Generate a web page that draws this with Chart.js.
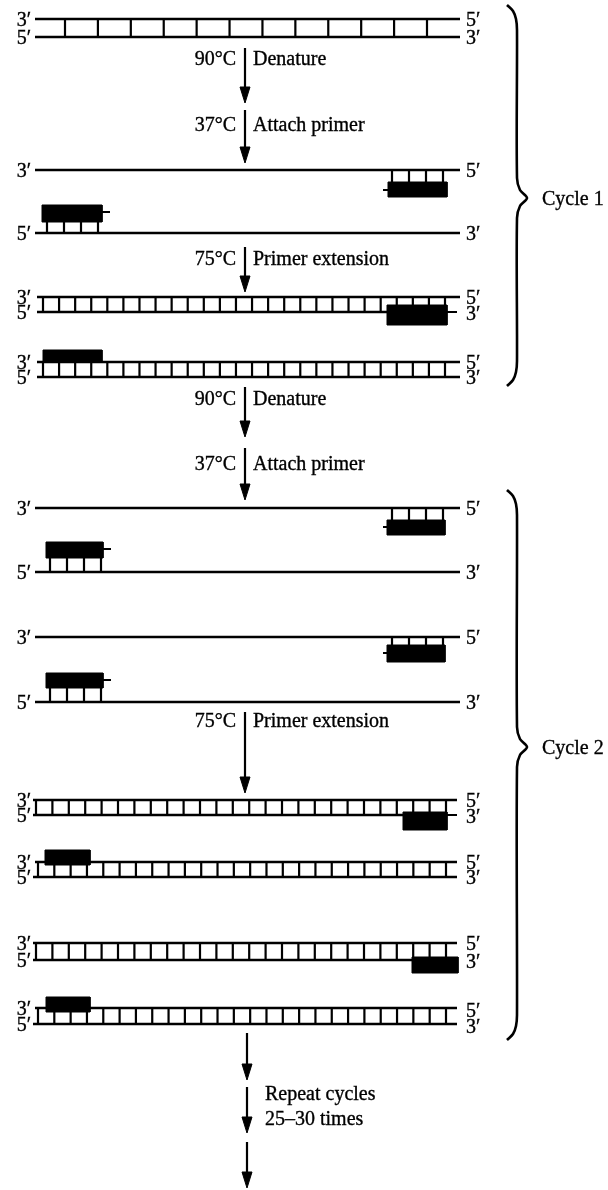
<!DOCTYPE html>
<html><head><meta charset="utf-8">
<style>html,body{margin:0;padding:0;background:#fff}#wrap{width:608px;height:1190px}</style>
<script src="https://cdn.jsdelivr.net/npm/chart.js@4.4.1/dist/chart.umd.min.js"></script>
</head><body><div id="wrap"><canvas id="c" width="608" height="1190"></canvas></div>
<script>
// ---- diagram data (coordinates in diagram units) ----
// strands: [xStart, xEnd, y]
const strandLines = [
  [35,460,19],[35,460,37],
  [35,460,170],[35,460,233],
  [37,460,297],[37,387,312],
  [37,460,362],[37,460,377],
  [35,460,508],[35,460,572],[35,460,637],[35,460,702],
  [33,457,800],[33,403,815],
  [35,457,862],[33,457,877],
  [33,457,943],[33,412,960],
  [35,457,1008],[33,457,1024]
];
// base-pair ladders: [xFirst, xLast, rungCount, yTop, yBottom]
const ladders = [
  [65,427,12,19,37],
  [392,443,4,170,182],
  [47,98,4,222,233],
  [43,445,26,297,312],
  [43,445,26,362,377],
  [392,443,4,508,520],
  [50,101,4,558,572],
  [392,443,4,637,645],
  [50,101,4,688,702],
  [36,446,26,800,815],
  [38,446,26,862,877],
  [36,446,26,943,960],
  [38,446,26,1008,1024]
];
// primers (black blocks): [xLeft, xRight, yTop, yBottom]
const primers = [
  [388,447,182,197],[42,102,205,222],
  [387,447,305,325],[43,102,350,362],
  [387,445,520,535],[46,103,542,558],
  [387,445,645,662],[46,103,673,688],
  [403,447,812,830],[45,90,850,865],
  [412,458,957,973],[46,90,997,1012]
];
// primer tails: [x1, x2, y]
const primerTails = [
  [383,388,190],[102,110,212],[447,457,312],
  [383,387,527],[103,111,549],[383,387,653],[103,111,680],
  [447,457,815]
];
// arrows: [x, yStart, yTip]
const arrows = [
  [245,48,103],[245,110,163],[245,247,292],
  [245,387,437],[245,448,500],[245,712,793],
  [247,1033,1080],[247,1087,1133],[247,1142,1188]
];
// step labels
const stepTemps = ["90°C","37°C","75°C","90°C","37°C","75°C"];
const stepNames = ["Denature","Attach primer","Primer extension","Denature","Attach primer","Primer extension"];
const stepY = [58,124,258,398,463,720];
// strand end labels: [text, y]
const leftLabels = [
  ["3′",19],["5′",37],["3′",170],["5′",233],["3′",297],["5′",312],["3′",362],["5′",377],
  ["3′",508],["5′",572],["3′",637],["5′",702],
  ["3′",800],["5′",815],["3′",862],["5′",877],["3′",943],["5′",960],["3′",1008],["5′",1024]
];
const rightLabels = [
  ["5′",19],["3′",37],["5′",170],["3′",233],["5′",297],["3′",313],["5′",362],["3′",377],
  ["5′",508],["3′",572],["5′",637],["3′",702],
  ["5′",800],["3′",816],["5′",862],["3′",877],["5′",943],["3′",961],["5′",1010],["3′",1026]
];
// braces: [yTop, yMid, yBottom]
const braces = [[5,198,386],[490,747,1040]];
const cycleNames = ["Cycle 1","Cycle 2"];
const repeatText = ["Repeat cycles","25–30 times"];
const repeatY = [1093,1118];

// ---- build datasets ----
const GAP = {x:0,y:null};
function segs(list){ const d=[]; list.forEach(s=>{ d.push(...s, GAP); }); return d; }
const strandData = segs(strandLines.map(([a,b,y])=>[{x:a,y},{x:b,y}]));
const tailData = segs(primerTails.map(([a,b,y])=>[{x:a,y},{x:b,y}]));
const rungSegs = [];
ladders.forEach(([x0,x1,n,yt,yb])=>{
  for(let i=0;i<n;i++){ const xx = n>1 ? x0+(x1-x0)*i/(n-1) : x0; rungSegs.push([{x:xx,y:yt},{x:xx,y:yb}]); }
});
const rungData = segs(rungSegs);
const blockData = segs(primers.map(([a,b,t,bt])=>[{x:a,y:t},{x:b,y:t},{x:b,y:bt},{x:a,y:bt},{x:a,y:t}]));
const shaftData = segs(arrows.map(([x,s,t])=>[{x,y:s},{x,y:t-10}]));
const headData = segs(arrows.map(([x,s,t])=>[{x:x-5,y:t-16},{x:x+5,y:t-16},{x,y:t},{x:x-5,y:t-16}]));
const braceSets = braces.map(([t,m,b])=>[
  {x:507,y:t},{x:513,y:t+6},{x:516,y:t+14},{x:517,y:t+25},{x:517,y:m-20},{x:520,y:m-8},{x:527,y:m},
  {x:520,y:m+8},{x:517,y:m+20},{x:517,y:b-25},{x:516,y:b-14},{x:513,y:b-6},{x:507,y:b}
]);

const base = {showLine:true,pointRadius:0,borderColor:'#000',backgroundColor:'#000',spanGaps:false,fill:false,tension:0};
const datasets = [
  Object.assign({},base,{label:'primers',data:blockData,fill:'shape',borderWidth:1,order:0}),
  Object.assign({},base,{label:'arrowheads',data:headData,fill:'shape',borderWidth:1,order:0}),
  Object.assign({},base,{label:'strands',data:strandData,borderWidth:2.5,order:2}),
  Object.assign({},base,{label:'tails',data:tailData,borderWidth:2.2,order:2}),
  Object.assign({},base,{label:'rungs',data:rungData,borderWidth:2.2,order:3}),
  Object.assign({},base,{label:'shafts',data:shaftData,borderWidth:2.2,order:2}),
  ...braceSets.map((d,i)=>Object.assign({},base,{label:'brace'+i,data:d,borderWidth:2.6,tension:0.3,order:2}))
];

const textPlugin = {
  id:'diagramText',
  afterDatasetsDraw(chart){
    const {ctx, scales:{x,y}} = chart;
    ctx.save();
    ctx.fillStyle='#000';
    ctx.strokeStyle='#000';
    ctx.lineWidth=0.35;
    ctx.font='20px "Liberation Serif", "Times New Roman", serif';
    ctx.textBaseline='alphabetic';
    const off = 7;
    const put=(t,px,py)=>{ctx.fillText(t,px,py);ctx.strokeText(t,px,py);};
    ctx.textAlign='right';
    leftLabels.forEach(([t,yy])=>put(t,x.getPixelForValue(31),y.getPixelForValue(yy)+off));
    stepTemps.forEach((t,i)=>put(t,x.getPixelForValue(236),y.getPixelForValue(stepY[i])+off));
    ctx.textAlign='left';
    rightLabels.forEach(([t,yy])=>put(t,x.getPixelForValue(466),y.getPixelForValue(yy)+off));
    stepNames.forEach((t,i)=>put(t,x.getPixelForValue(253),y.getPixelForValue(stepY[i])+off));
    cycleNames.forEach((t,i)=>put(t,x.getPixelForValue(542),y.getPixelForValue(braces[i][1])+off));
    repeatText.forEach((t,i)=>put(t,x.getPixelForValue(265),y.getPixelForValue(repeatY[i])+off));
    ctx.restore();
  }
};

new Chart(document.getElementById('c'),{
  type:'scatter',
  data:{datasets},
  options:{
    responsive:false,
    animation:false,
    events:[],
    layout:{padding:0},
    plugins:{legend:{display:false},tooltip:{enabled:false}},
    scales:{
      x:{type:'linear',min:0,max:608,display:false},
      y:{type:'linear',min:0,max:1190,reverse:true,display:false}
    }
  },
  plugins:[textPlugin]
});
</script></body></html>
